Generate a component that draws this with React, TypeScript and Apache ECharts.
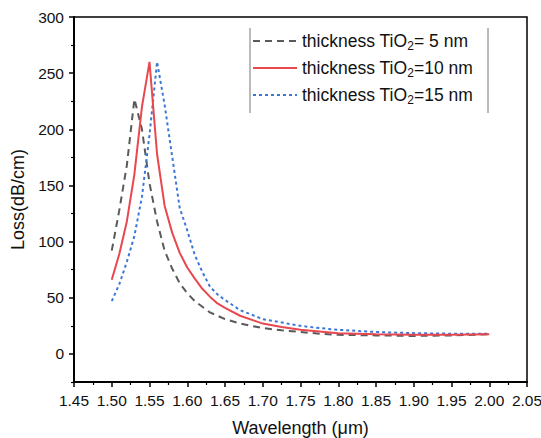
import React, { useEffect, useRef } from "react";
import * as echarts from "echarts";

const wavelengths = [
  1.5, 1.51, 1.52, 1.53, 1.54, 1.55, 1.56, 1.57, 1.58, 1.59, 1.6, 1.61, 1.62, 1.63, 1.64, 1.65,
  1.67, 1.7, 1.725, 1.75, 1.775, 1.8, 1.85, 1.9, 1.95, 2.0,
];
const loss5 = [
  92, 128, 168, 227, 200, 152, 118, 92, 76, 63, 54, 47, 42, 37, 34, 31,
  27, 23, 21, 19.5, 18, 17, 16.5, 16, 16.5, 17.5,
];
const loss10 = [
  66, 89, 118, 160, 220, 260, 178, 132, 108, 90, 77, 67, 58, 51, 45, 41,
  34, 27, 24, 21.5, 20, 18.5, 17.5, 17, 17, 17.5,
];
const loss15 = [
  47, 62, 82, 105, 140, 195, 260, 222, 176, 130, 110, 88, 73, 60, 53, 48,
  39, 31, 28, 25, 23, 21.5, 19.5, 18.5, 18, 18,
];
const seriesNames = ["t5", "t10", "t15"];
const legendLabels = [
  "{t|thickness TiO}{sub|2}{t|= 5 nm}",
  "{t|thickness TiO}{sub|2}{t|=10 nm}",
  "{t|thickness TiO}{sub|2}{t|=15 nm}",
];
const yMajorTicks = [0, 50, 100, 150, 200, 250, 300];
const yMinorTicks = [-25, 25, 75, 125, 175, 225, 275];

const FONT = "'Liberation Sans', Arial, sans-serif";

export default function App() {
  const ref = useRef<HTMLDivElement>(null);
  useEffect(() => {
    if (!ref.current) return;
    const chart = echarts.init(ref.current, undefined, { renderer: "svg" });
    const pair = (ys: number[]) => wavelengths.map((x, i) => [x, ys[i]]);
    chart.setOption({
      animation: false,
      backgroundColor: "#ffffff",
      textStyle: { fontFamily: FONT },
      grid: {
        left: 74,
        top: 17,
        right: 14,
        bottom: 56,
        outerBoundsMode: "none",
        containLabel: false,
        show: true,
        borderColor: "#000",
        borderWidth: 1.5,
        backgroundColor: "transparent",
      },
      legend: {
        orient: "vertical",
        left: 252,
        top: 32,
        padding: 0,
        itemWidth: 44,
        itemHeight: 12,
        itemGap: 7,
        data: seriesNames,
        itemStyle: { opacity: 0 },
        formatter: (name: string) => legendLabels[seriesNames.indexOf(name)],
        textStyle: {
          fontFamily: FONT,
          color: "#111",
          rich: {
            t: { fontSize: 17.5, lineHeight: 22, fontFamily: FONT, color: "#111" },
            sub: { fontSize: 12, lineHeight: 12, verticalAlign: "bottom", fontFamily: FONT, color: "#111" },
          },
        },
      },
      xAxis: {
        type: "value",
        min: 1.45,
        max: 2.05,
        interval: 0.05,
        name: "Wavelength (μm)",
        nameLocation: "middle",
        nameGap: 37,
        nameTextStyle: { fontSize: 18, color: "#111", fontFamily: FONT },
        axisLine: { show: true, onZero: false, lineStyle: { color: "#000", width: 2 } },
        axisTick: { show: true, length: 5, lineStyle: { color: "#000", width: 1.5 } },
        minorTick: { show: true, splitNumber: 2, length: 3, lineStyle: { color: "#000", width: 1.2 } },
        axisLabel: {
          fontSize: 15.5,
          color: "#111",
          margin: 10,
          fontFamily: FONT,
          formatter: (v: number) => v.toFixed(2),
        },
        splitLine: { show: false },
      },
      yAxis: [
        {
          type: "value",
          min: -25,
          max: 300,
          name: "Loss(dB/cm)",
          nameLocation: "middle",
          nameGap: 36,
          nameTextStyle: { fontSize: 18, color: "#111", fontFamily: FONT },
          axisLine: { show: true, onZero: false, lineStyle: { color: "#000", width: 2 } },
          axisTick: { show: true, length: 5, customValues: yMajorTicks, lineStyle: { color: "#000", width: 1.5 } },
          axisLabel: {
            fontSize: 15.5,
            color: "#111",
            margin: 10,
            fontFamily: FONT,
            customValues: yMajorTicks,
          },
          splitLine: { show: false },
        },
        {
          type: "value",
          min: -25,
          max: 300,
          position: "left",
          offset: 0,
          axisLine: { show: false },
          axisTick: { show: true, length: 3, customValues: yMinorTicks, lineStyle: { color: "#000", width: 1.2 } },
          axisLabel: { show: false },
          splitLine: { show: false },
        },
      ],
      series: [
        {
          name: seriesNames[0],
          type: "line",
          data: pair(loss5),
          showSymbol: false,
          symbol: "none",
          z: 2,
          lineStyle: { color: "#5a5a5a", width: 2, type: [7, 5] },
          itemStyle: { color: "#5a5a5a" },
        },
        {
          name: seriesNames[1],
          type: "line",
          data: pair(loss10),
          showSymbol: false,
          symbol: "none",
          z: 4,
          lineStyle: { color: "#e8484e", width: 2 },
          itemStyle: { color: "#e8484e" },
        },
        {
          name: seriesNames[2],
          type: "line",
          data: pair(loss15),
          showSymbol: false,
          symbol: "none",
          z: 3,
          lineStyle: { color: "#3b78d6", width: 2, type: [3, 3] },
          itemStyle: { color: "#3b78d6" },
        },
      ],
      graphic: [
        { type: "line", shape: { x1: 250, y1: 28, x2: 250, y2: 113 }, style: { stroke: "#777", lineWidth: 1 } },
        { type: "line", shape: { x1: 488, y1: 28, x2: 488, y2: 113 }, style: { stroke: "#777", lineWidth: 1 } },
      ],
    });
    return () => chart.dispose();
  }, []);
  return <div ref={ref} style={{ width: 541, height: 438, position: "absolute", left: 0, top: 0 }} />;
}
